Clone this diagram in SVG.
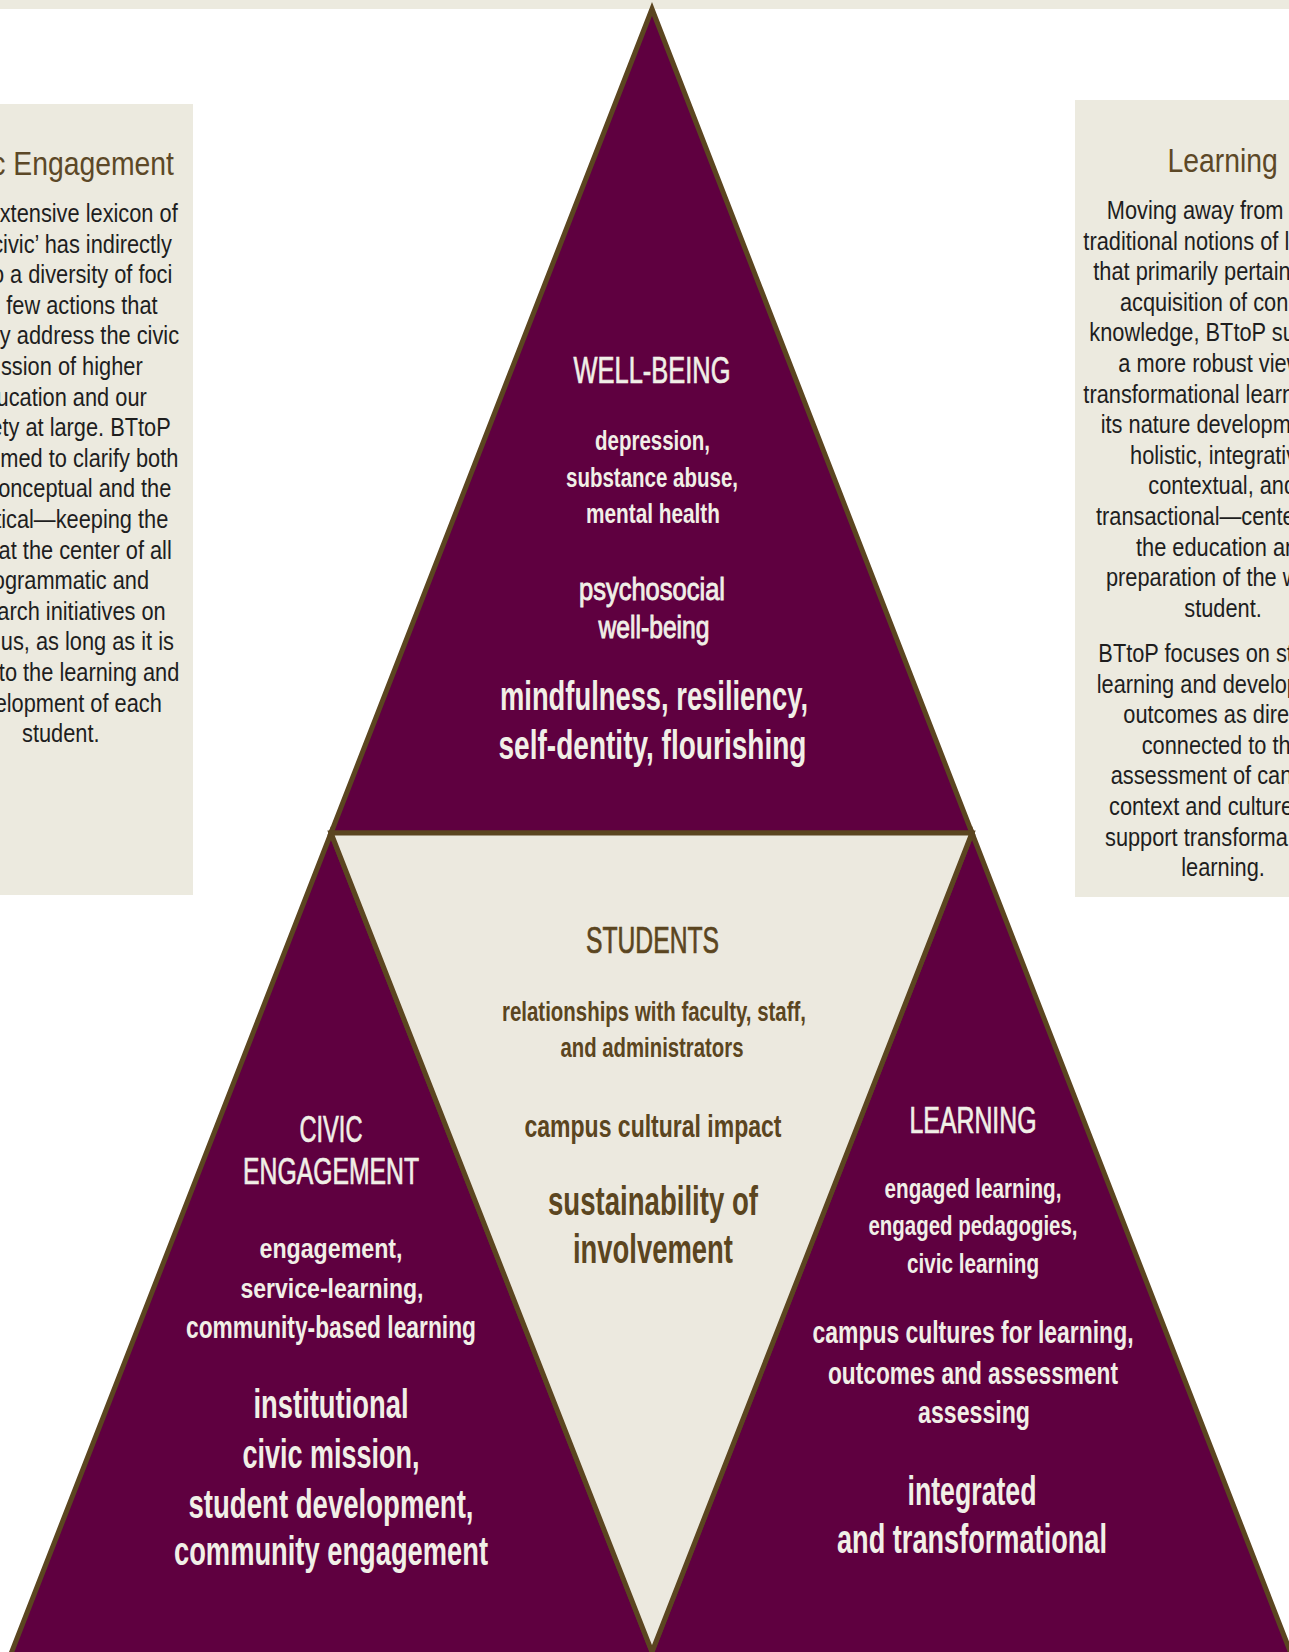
<svg xmlns="http://www.w3.org/2000/svg" width="1289" height="1652" viewBox="0 0 1289 1652">
<style>
.band{fill:#ECEADF}
.box{fill:#ECEADF}
.tri{fill:#5F0040;stroke:#5B4520;stroke-width:5;stroke-linejoin:miter}
.inner{fill:#ECE9DF;stroke:#5B4520;stroke-width:5;stroke-linejoin:miter}
.bt{font-family:"Liberation Sans",Arial,sans-serif;font-size:25px;fill:#1E1E1E}
.bh{font-family:"Liberation Sans",Arial,sans-serif;font-size:32.5px;fill:#5C4827}
.end{text-anchor:end}
.mid{text-anchor:middle}
.tt{font-family:"Liberation Sans Narrow","Liberation Sans",Arial,sans-serif;text-anchor:middle;fill:#F1EFE7;stroke:#F1EFE7}
.st{font-family:"Liberation Sans Narrow","Liberation Sans",Arial,sans-serif;text-anchor:middle;fill:#5B4520;stroke:#5B4520}
.ttl{font-size:37px;stroke-width:0.7}
.sm{font-size:27px;font-weight:bold;stroke-width:0}
.md{font-size:31px;stroke-width:0.9}
.mdb{font-size:31px;font-weight:bold;stroke-width:0}
.lg{font-size:40px;font-weight:bold;stroke-width:0}
</style>
<rect x="0" y="0" width="1289" height="1652" fill="#FFFFFF"/>
<rect class="band" x="0" y="0" width="1289" height="9"/>

<g id="node-civic-box">
<rect class="box" x="0" y="104" width="193" height="791"/>
<g transform="scale(0.872,1)">
<text class="bh end" x="199.5" y="175">c Engagement</text>
<text class="bt end" x="203.8" y="222">xtensive lexicon of</text>
<text class="bt end" x="197" y="252.6">civic’ has indirectly</text>
<text class="bt end" x="197.6" y="283.2">o a diversity of foci</text>
<text class="bt end" x="180.8" y="313.8">few actions that</text>
<text class="bt end" x="205.3" y="344.4">y address the civic</text>
<text class="bt end" x="163.6" y="375">ssion of higher</text>
<text class="bt end" x="168.3" y="405.6">ucation and our</text>
<text class="bt end" x="195.8" y="436.2">ety at large. BTtoP</text>
<text class="bt end" x="204.5" y="466.8">med to clarify both</text>
<text class="bt end" x="196.5" y="497.4">onceptual and the</text>
<text class="bt end" x="193" y="528">tical—keeping the</text>
<text class="bt end" x="197" y="558.6">at the center of all</text>
<text class="bt end" x="170.9" y="589.2">ogrammatic and</text>
<text class="bt end" x="190" y="619.8">arch initiatives on</text>
<text class="bt end" x="199.5" y="650.4">us, as long as it is</text>
<text class="bt end" x="205.6" y="681">to the learning and</text>
<text class="bt end" x="185.5" y="711.6">elopment of each</text>
<text class="bt mid" x="69.7" y="742.2">student.</text>
</g>
</g>

<g id="node-learning-box">
<rect class="box" x="1075" y="100" width="214" height="797"/>
<g transform="scale(0.872,1)">
<text class="bh mid" x="1402.2" y="171.7">Learning</text>
<text class="bt" x="1269.2" y="219">Moving away from</text>
<text class="bt" x="1242.4" y="249.6">traditional notions of l</text>
<text class="bt" x="1253.8" y="280.2">that primarily pertain</text>
<text class="bt" x="1284.4" y="310.8">acquisition of con</text>
<text class="bt" x="1249.2" y="341.4">knowledge, BTtoP su</text>
<text class="bt" x="1282.5" y="372">a more robust view</text>
<text class="bt" x="1242.4" y="402.6">transformational learn</text>
<text class="bt" x="1262.3" y="433.2">its nature developm</text>
<text class="bt" x="1295.9" y="463.8">holistic, integrativ</text>
<text class="bt" x="1316.9" y="494.4">contextual, and</text>
<text class="bt" x="1256.9" y="525">transactional—cente</text>
<text class="bt" x="1302.8" y="555.6">the education an</text>
<text class="bt" x="1268.3" y="586.2">preparation of the w</text>
<text class="bt mid" x="1402.6" y="616.8">student.</text>
<text class="bt" x="1259.6" y="662">BTtoP focuses on st</text>
<text class="bt" x="1257.7" y="692.6">learning and develop</text>
<text class="bt" x="1288.2" y="723.2">outcomes as dire</text>
<text class="bt" x="1309.3" y="753.8">connected to th</text>
<text class="bt" x="1273.7" y="784.4">assessment of can</text>
<text class="bt" x="1271.8" y="815">context and culture</text>
<text class="bt" x="1267.2" y="845.6">support transforma</text>
<text class="bt mid" x="1402.6" y="876.2">learning.</text>
</g>
</g>

<g id="node-civic">
<polygon class="tri" points="331,833 -9,1705 673,1705"/>
<text class="tt ttl" x="331" y="1142" textLength="63" lengthAdjust="spacingAndGlyphs">CIVIC</text>
<text class="tt ttl" x="331" y="1184" textLength="176" lengthAdjust="spacingAndGlyphs">ENGAGEMENT</text>
<text class="tt sm" x="331" y="1258" textLength="143" lengthAdjust="spacingAndGlyphs">engagement,</text>
<text class="tt sm" x="332" y="1298" textLength="183" lengthAdjust="spacingAndGlyphs">service-learning,</text>
<text class="tt mdb" x="331" y="1338" textLength="290" lengthAdjust="spacingAndGlyphs">community-based learning</text>
<text class="tt lg" x="331" y="1418" textLength="155" lengthAdjust="spacingAndGlyphs">institutional</text>
<text class="tt lg" x="331" y="1468" textLength="177" lengthAdjust="spacingAndGlyphs">civic mission,</text>
<text class="tt lg" x="331" y="1518" textLength="285" lengthAdjust="spacingAndGlyphs">student development,</text>
<text class="tt lg" x="331" y="1565" textLength="314" lengthAdjust="spacingAndGlyphs">community engagement</text>
</g>

<g id="node-learning">
<polygon class="tri" points="972,833 631,1705 1311,1705"/>
<text class="tt ttl" x="973" y="1133" textLength="127" lengthAdjust="spacingAndGlyphs">LEARNING</text>
<text class="tt sm" x="973" y="1198" textLength="177" lengthAdjust="spacingAndGlyphs">engaged learning,</text>
<text class="tt sm" x="973" y="1235" textLength="209" lengthAdjust="spacingAndGlyphs">engaged pedagogies,</text>
<text class="tt sm" x="973" y="1273" textLength="132" lengthAdjust="spacingAndGlyphs">civic learning</text>
<text class="tt mdb" x="973" y="1343" textLength="321" lengthAdjust="spacingAndGlyphs">campus cultures for learning,</text>
<text class="tt mdb" x="973" y="1384" textLength="290" lengthAdjust="spacingAndGlyphs">outcomes and assessment</text>
<text class="tt mdb" x="974" y="1423" textLength="112" lengthAdjust="spacingAndGlyphs">assessing</text>
<text class="tt lg" x="972" y="1505" textLength="129" lengthAdjust="spacingAndGlyphs">integrated</text>
<text class="tt lg" x="972" y="1553" textLength="270" lengthAdjust="spacingAndGlyphs">and transformational</text>
</g>

<g id="node-wellbeing">
<polygon class="tri" points="652,9 331,833 972,833"/>
<text class="tt ttl" x="652" y="383" textLength="157" lengthAdjust="spacingAndGlyphs">WELL-BEING</text>
<text class="tt sm" x="652.5" y="450" textLength="115" lengthAdjust="spacingAndGlyphs">depression,</text>
<text class="tt sm" x="652" y="487" textLength="172" lengthAdjust="spacingAndGlyphs">substance abuse,</text>
<text class="tt sm" x="653" y="523" textLength="134" lengthAdjust="spacingAndGlyphs">mental health</text>
<text class="tt md" x="652" y="600" textLength="146" lengthAdjust="spacingAndGlyphs">psychosocial</text>
<text class="tt md" x="654" y="638" textLength="111" lengthAdjust="spacingAndGlyphs">well-being</text>
<text class="tt lg" x="654" y="710" textLength="308" lengthAdjust="spacingAndGlyphs">mindfulness, resiliency,</text>
<text class="tt lg" x="652.5" y="759" textLength="308" lengthAdjust="spacingAndGlyphs">self-dentity, flourishing</text>
</g>

<g id="node-students">
<polygon class="inner" points="331,833 972,833 652,1652"/>
<text class="st ttl" x="652.5" y="953" textLength="133" lengthAdjust="spacingAndGlyphs">STUDENTS</text>
<text class="st sm" x="654" y="1021" textLength="304" lengthAdjust="spacingAndGlyphs">relationships with faculty, staff,</text>
<text class="st sm" x="652" y="1057" textLength="183" lengthAdjust="spacingAndGlyphs">and administrators</text>
<text class="st mdb" x="653" y="1137" textLength="257" lengthAdjust="spacingAndGlyphs">campus cultural impact</text>
<text class="st lg" x="653" y="1215" textLength="210" lengthAdjust="spacingAndGlyphs">sustainability of</text>
<text class="st lg" x="653" y="1263" textLength="160" lengthAdjust="spacingAndGlyphs">involvement</text>
</g>

<g id="connectors"></g>
</svg>
